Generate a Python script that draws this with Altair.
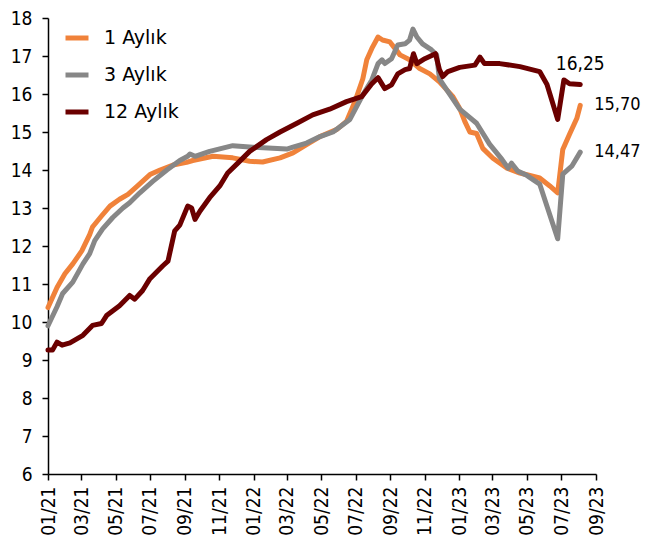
import altair as alt
import pandas as pd

series_names = ["1 Aylık", "3 Aylık", "12 Aylık"]
series_colors = ["#F0823A", "#878787", "#6B0000"]

dates_1 = ["2021-01-01", "2021-01-17", "2021-01-31", "2021-02-14", "2021-03-02", "2021-03-16",
           "2021-03-21", "2021-04-06", "2021-04-21", "2021-05-08", "2021-05-23", "2021-06-08",
           "2021-07-01", "2021-07-19", "2021-08-11", "2021-09-04", "2021-09-15", "2021-10-21",
           "2021-11-25", "2021-12-25", "2022-01-17", "2022-02-17", "2022-03-12", "2022-04-05",
           "2022-04-29", "2022-05-29", "2022-06-15", "2022-06-30", "2022-07-14", "2022-07-21",
           "2022-07-30", "2022-08-10", "2022-08-18", "2022-08-31", "2022-09-09", "2022-09-18",
           "2022-10-05", "2022-10-23", "2022-11-10", "2022-11-27", "2022-12-21", "2023-01-02",
           "2023-01-11", "2023-01-20", "2023-02-01", "2023-02-12", "2023-03-02", "2023-03-27",
           "2023-04-19", "2023-05-24", "2023-06-11", "2023-06-25", "2023-07-04", "2023-07-16",
           "2023-07-29", "2023-08-04"]
vals_1 = [10.38, 10.91, 11.27, 11.53, 11.87, 12.30,
          12.50, 12.79, 13.05, 13.23, 13.36, 13.57,
          13.88, 14.00, 14.13, 14.20, 14.25, 14.36,
          14.32, 14.23, 14.21, 14.32, 14.45, 14.67,
          14.88, 15.07, 15.28, 15.80, 16.40, 16.90,
          17.20, 17.50, 17.42, 17.37, 17.20, 17.03,
          16.90, 16.67, 16.53, 16.32, 15.93, 15.62,
          15.28, 15.00, 14.96, 14.57, 14.31, 14.05,
          13.92, 13.79, 13.58, 13.40, 14.54, 14.94,
          15.36, 15.70]

dates_3 = ["2021-01-01", "2021-01-17", "2021-01-27", "2021-02-14", "2021-03-04", "2021-03-16",
           "2021-03-25", "2021-04-08", "2021-04-26", "2021-05-14", "2021-05-26", "2021-06-13",
           "2021-07-06", "2021-07-31", "2021-08-23", "2021-09-06", "2021-09-10", "2021-09-19",
           "2021-10-15", "2021-11-25", "2021-12-31", "2022-02-04", "2022-03-01", "2022-03-12",
           "2022-04-05", "2022-04-29", "2022-05-22", "2022-06-21", "2022-07-14", "2022-07-30",
           "2022-08-10", "2022-08-17", "2022-08-22", "2022-09-03", "2022-09-14", "2022-09-27",
           "2022-10-05", "2022-10-11", "2022-10-18", "2022-10-28", "2022-11-13", "2022-11-22",
           "2022-11-27", "2022-12-10", "2023-01-02", "2023-02-01", "2023-02-24", "2023-03-18",
           "2023-03-29", "2023-04-04", "2023-04-15", "2023-05-01", "2023-05-24", "2023-06-07",
           "2023-06-25", "2023-07-04", "2023-07-20", "2023-08-04"]
vals_3 = [9.90, 10.40, 10.75, 11.05, 11.53, 11.80,
          12.14, 12.45, 12.75, 13.00, 13.14, 13.40,
          13.70, 14.00, 14.25, 14.36, 14.42, 14.36,
          14.49, 14.64, 14.60, 14.57, 14.55, 14.60,
          14.71, 14.88, 15.00, 15.33, 15.98, 16.37,
          16.80, 16.90, 16.80, 16.93, 17.29, 17.32,
          17.42, 17.71, 17.50, 17.32, 17.16, 17.03,
          16.40, 16.11, 15.60, 15.23, 14.68, 14.28,
          14.05, 14.18, 13.97, 13.86, 13.63, 13.00,
          12.19, 13.89, 14.10, 14.47]

dates_12 = ["2021-01-01", "2021-01-09", "2021-01-17", "2021-01-26", "2021-02-09", "2021-03-04",
            "2021-03-21", "2021-04-06", "2021-04-15", "2021-05-08", "2021-05-26", "2021-06-04",
            "2021-06-18", "2021-07-01", "2021-07-24", "2021-08-02", "2021-08-14", "2021-08-23",
            "2021-09-06", "2021-09-13", "2021-09-19", "2021-09-28", "2021-10-15", "2021-11-02",
            "2021-11-16", "2021-12-04", "2021-12-25", "2022-01-24", "2022-02-17", "2022-03-19",
            "2022-04-16", "2022-05-16", "2022-06-15", "2022-07-12", "2022-07-30", "2022-08-10",
            "2022-08-22", "2022-09-03", "2022-09-14", "2022-09-27", "2022-10-05", "2022-10-12",
            "2022-10-18", "2022-11-01", "2022-11-20", "2022-11-27", "2022-12-03", "2022-12-12",
            "2023-01-02", "2023-01-29", "2023-02-07", "2023-02-15", "2023-03-14", "2023-04-19",
            "2023-05-24", "2023-06-06", "2023-06-25", "2023-07-06", "2023-07-16", "2023-08-04"]
vals_12 = [9.26, 9.26, 9.47, 9.39, 9.45, 9.65,
           9.91, 9.96, 10.17, 10.43, 10.70, 10.60,
           10.83, 11.14, 11.48, 11.60, 12.40, 12.55,
           13.05, 13.00, 12.70, 12.92, 13.27, 13.58,
           13.92, 14.18, 14.49, 14.80, 15.00, 15.23,
           15.45, 15.60, 15.80, 15.93, 16.27, 16.43,
           16.14, 16.24, 16.53, 16.64, 16.67, 17.06,
           16.80, 16.93, 17.06, 16.64, 16.46, 16.59,
           16.70, 16.76, 16.97, 16.80, 16.80, 16.72,
           16.59, 16.25, 15.33, 16.37, 16.27, 16.25]

x_tick_dates = [(2021, m) for m in (1, 3, 5, 7, 9, 11)] + \
               [(2022, m) for m in (1, 3, 5, 7, 9, 11)] + \
               [(2023, m) for m in (1, 3, 5, 7, 9)]
y_ticks = list(range(6, 19))

frames = []
for name, ds, vs in zip(series_names, [dates_1, dates_3, dates_12], [vals_1, vals_3, vals_12]):
    frames.append(pd.DataFrame({"date": [d + "T00:00:00" for d in ds], "value": vs, "series": name}))
df = pd.concat(frames, ignore_index=True)

last = pd.DataFrame({
    "date": [dates_1[-1] + "T00:00:00", dates_3[-1] + "T00:00:00", dates_12[-1] + "T00:00:00"],
    "value": [vals_1[-1], vals_3[-1], vals_12[-1]],
    "series": series_names,
})
last["label"] = last["value"].map(lambda v: f"{v:.2f}".replace(".", ","))

FONT = "DejaVu Sans Condensed"
LEGEND_FONT = "DejaVu Sans"

x_enc = alt.X("date:T",
              scale=alt.Scale(domain=[alt.DateTime(year=2021, month=1, date=1),
                                      alt.DateTime(year=2023, month=9, date=1)]),
              axis=alt.Axis(values=[alt.DateTime(year=y, month=m, date=1) for y, m in x_tick_dates],
                            format="%m/%y", labelAngle=-90, title=None, grid=False,
                            labelOverlap=False, labelBound=False, labelFlush=False,
                            domainColor="black", tickColor="black", tickSize=6,
                            labelPadding=6, labelColor="black", labelFontSize=19, labelFont=FONT,
                            domainWidth=1.5, tickWidth=1.5))
y_enc = alt.Y("value:Q",
              scale=alt.Scale(domain=[6, 18], nice=False, zero=False),
              axis=alt.Axis(values=y_ticks, title=None, grid=False,
                            labelOverlap=False, labelBound=False, labelFlush=False,
                            domainColor="black", tickColor="black", tickSize=6,
                            labelPadding=10, labelColor="black", labelFontSize=19, labelFont=FONT,
                            domainWidth=1.5, tickWidth=1.5))

lines = alt.Chart(df).mark_line(strokeWidth=5, strokeJoin="round", strokeCap="round").encode(
    x=x_enc, y=y_enc,
    color=alt.Color("series:N",
                    scale=alt.Scale(domain=series_names, range=series_colors),
                    legend=alt.Legend(title=None, orient="none", legendX=15, legendY=6,
                                      symbolType="stroke", symbolSize=529, symbolStrokeWidth=5,
                                      labelFontSize=19, labelFont=LEGEND_FONT, labelColor="black",
                                      labelOffset=13, rowPadding=13, padding=0)),
    detail="series:N",
)

top_label = alt.Chart(last[last["series"] == "12 Aylık"]).mark_text(
    align="center", baseline="middle", dy=-21, fontSize=19, font=FONT, color="black"
).encode(x=x_enc, y=y_enc, text="label:N")

side_labels = alt.Chart(last[last["series"] != "12 Aylık"]).mark_text(
    align="left", baseline="middle", dx=14, fontSize=18, font=FONT, color="black"
).encode(x=x_enc, y=y_enc, text="label:N")

chart = alt.layer(lines, top_label, side_labels).properties(
    width=548, height=456,
    autosize=alt.AutoSizeParams(type="none"),
    padding={"left": 40, "top": 10, "right": 45, "bottom": 65},
).configure_view(stroke=None)

chart.save("out.html", embed_options={"renderer": "svg", "actions": False})
